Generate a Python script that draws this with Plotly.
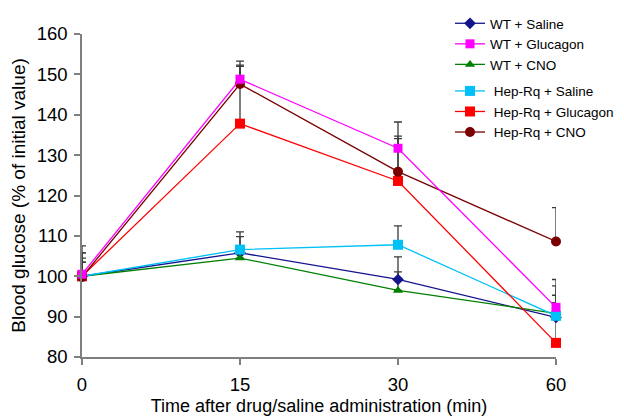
import plotly.graph_objects as go

# ---- data ----
time_labels = ["0", "15", "30", "60"]

series_names = ["WT + Saline", "WT + Glucagon", "WT + CNO",
                "\u00a0Hep-Rq + Saline", "\u00a0Hep-Rq + Glucagon", "\u00a0Hep-Rq + CNO"]

wt_saline = [100.0, 105.8, 99.2, 89.8]
wt_saline_err = [4.5, 4.0, 5.6, 3.6]

wt_glucagon = [100.5, 148.8, 131.7, 92.3]
wt_glucagon_err = [7.0, 3.5, 6.5, 6.9]

wt_cno = [100.0, 104.5, 96.5, 90.8]
wt_cno_err = [3.5, 3.0, 4.6, 4.5]

hep_saline = [100.0, 106.6, 107.8, 90.2]
hep_saline_err = [5.8, 4.4, 4.7, 7.4]

hep_glucagon = [100.0, 137.8, 123.6, 83.5]
hep_glucagon_err = [3.5, 14.2, 10.5, 9.9]

hep_cno = [99.8, 147.6, 125.9, 108.6]
hep_cno_err = [6.0, 5.7, 8.8, 8.4]

y_ticks = [80, 90, 100, 110, 120, 130, 140, 150, 160]

# ---- styling ----
colors = ["#14148c", "#ff00ff", "#008000", "#00c0f8", "#ff0000", "#7a0000"]
symbols = ["diamond", "square", "triangle-up", "square", "square", "circle"]
sizes = [9, 9, 9, 10, 10, 10]
groups = ["wt", "wt", "wt", "hep", "hep", "hep"]
values = [wt_saline, wt_glucagon, wt_cno, hep_saline, hep_glucagon, hep_cno]
errors = [wt_saline_err, wt_glucagon_err, wt_cno_err, hep_saline_err, hep_glucagon_err, hep_cno_err]

# drawing order (pink on top)
draw_order = [0, 2, 3, 4, 5, 1]

fig = go.Figure()
FONT = "Liberation Sans, Arial, Helvetica, sans-serif"

# error bars first (one-sided, upward)
for i in range(6):
    fig.add_trace(go.Scatter(
        x=time_labels, y=values[i], mode="markers",
        marker=dict(size=1, opacity=0),
        error_y=dict(type="data", symmetric=False, array=errors[i],
                     arrayminus=[0] * len(errors[i]),
                     color="#3a3a3a", thickness=1.3, width=4),
        showlegend=False, hoverinfo="skip", cliponaxis=False,
    ))

for i in draw_order:
    fig.add_trace(go.Scatter(
        x=time_labels, y=values[i], name=series_names[i],
        mode="lines+markers",
        line=dict(color=colors[i], width=1.3),
        marker=dict(symbol=symbols[i], size=sizes[i], color=colors[i]),
        legendgroup=groups[i], legendrank=i + 1,
        cliponaxis=False,
    ))

# page body has an 8px default margin, so the figure is sized to fit the window
W, H = 616, 408
fig.update_layout(
    width=W, height=H,
    margin=dict(l=74, r=68, t=26, b=59, autoexpand=False),
    paper_bgcolor="white", plot_bgcolor="white",
    font=dict(family=FONT, size=18, color="black"),
    showlegend=True,
    legend=dict(
        xref="container", yref="container",
        x=442 / W, y=1.0, xanchor="left", yanchor="top",
        font=dict(size=13.5, family=FONT, color="black"),
        traceorder="grouped", tracegroupgap=6,
        bgcolor="rgba(0,0,0,0)", itemwidth=30,
    ),
    xaxis=dict(
        type="category", range=[0, 3], automargin=False,
        showline=True, linecolor="#7f7f7f", linewidth=1.5,
        ticks="outside", ticklen=6, tickwidth=1.5, tickcolor="#7f7f7f",
        ticklabelstandoff=4,
        showgrid=False, zeroline=False,
        tickfont=dict(size=18.5),
        title=dict(text="Time after drug/saline administration (min)",
                   font=dict(size=18), standoff=8),
    ),
    yaxis=dict(
        range=[80, 160], tickvals=y_ticks, automargin=False,
        showline=True, linecolor="#7f7f7f", linewidth=1.5,
        ticks="outside", ticklen=6, tickwidth=1.5, tickcolor="#7f7f7f",
        ticklabelstandoff=3,
        showgrid=False, zeroline=False,
        tickfont=dict(size=18.5),
        title=dict(text="Blood glucose (% of initial value)",
                   font=dict(size=19), standoff=8),
    ),
)

fig.write_html("out.html")
